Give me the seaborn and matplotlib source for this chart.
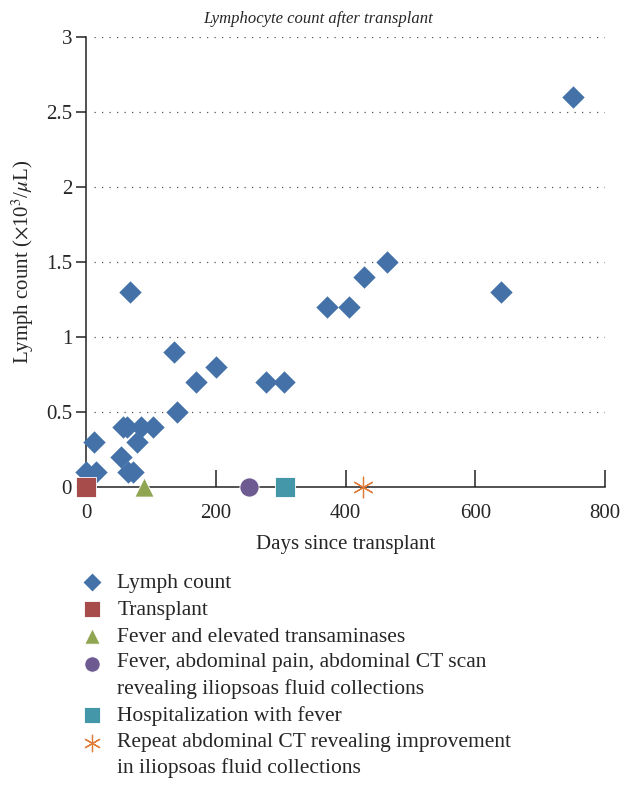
import pandas as pd
import seaborn as sns
import matplotlib.pyplot as plt

# lymphocyte counts
days = [0, 12, 15, 54, 57, 63, 64, 68, 72, 78, 85, 104, 135, 140, 169, 200,
        277, 305, 371, 405, 429, 464, 640, 750]
lymph = [0.1, 0.3, 0.1, 0.2, 0.4, 0.4, 0.1, 1.3, 0.1, 0.3, 0.4, 0.4, 0.9, 0.5, 0.7, 0.8,
         0.7, 0.7, 1.2, 1.2, 1.4, 1.5, 1.3, 2.6]

# clinical events on the time axis
event_days = [0, 90, 252, 306, 427]
event_labels = [
    "Transplant",
    "Fever and elevated transaminases",
    "Fever, abdominal pain, abdominal CT scan\nrevealing iliopsoas fluid collections",
    "Hospitalization with fever",
    "Repeat abdominal CT revealing improvement\nin iliopsoas fluid collections",
]
event_colors = ["#A84B4B", "#8FA552", "#6D5A91", "#4497A9", "#E07B39"]
event_markers = ["s", "^", "o", "s", (6, 2, 0)]

sns.set_style("white")
plt.rcParams['font.family'] = ['Liberation Serif', 'DejaVu Serif']
plt.rcParams['mathtext.fontset'] = 'stix'

fig = plt.figure(figsize=(6.34, 7.95), dpi=100)
ax = fig.add_axes([86 / 634, 1 - 487 / 795, (605 - 86) / 634, (487 - 37) / 795])

df = pd.DataFrame({"day": days, "lymph": lymph})
sns.scatterplot(data=df, x="day", y="lymph", marker="D", s=130, color="#4472A8",
                edgecolor="#4472A8", linewidth=0, ax=ax, label="Lymph count",
                clip_on=False, zorder=3)

for d, lab, c, m in zip(event_days, event_labels, event_colors, event_markers):
    if m == (6, 2, 0):
        sns.scatterplot(x=[d], y=[0], marker=m, s=220, color=c, linewidth=0.9,
                        ax=ax, label=lab, clip_on=False, zorder=4)
    else:
        sns.scatterplot(x=[d], y=[0], marker=m, s=190, color=c, edgecolor="white",
                        linewidth=0.6, ax=ax, label=lab, clip_on=False, zorder=4)

ax.set_xlim(0, 800)
ax.set_ylim(0, 3)
ax.set_xticks([0, 200, 400, 600, 800])
ax.set_yticks([0, 0.5, 1, 1.5, 2, 2.5, 3])
ax.set_yticklabels(["0", "0.5", "1", "1.5", "2", "2.5", "3"])
for y in [0.5, 1, 1.5, 2, 2.5, 3]:
    ax.axhline(y, xmin=0.015, color="#555555", linestyle=(0, (1, 5)), linewidth=0.9, zorder=1)

for side in ["top", "right"]:
    ax.spines[side].set_visible(False)
ax.spines["left"].set_color("#222222")
ax.spines["bottom"].set_color("#222222")
ax.spines["left"].set_linewidth(1.1)
ax.spines["bottom"].set_linewidth(1.1)
ax.tick_params(axis="x", direction="in", length=12, width=1.1, color="#222222",
               labelsize=15, pad=12, bottom=True)
ax.tick_params(axis="y", direction="out", length=7, width=1.1, color="#222222",
               labelsize=15, pad=3, left=True)

ax.set_xlabel("Days since transplant", fontsize=15, labelpad=9)
ax.set_ylabel(r"Lymph count ($\times$10$^3$/$\mu$L)", fontsize=15, labelpad=7)
ax.set_title("Lymphocyte count after transplant", fontsize=12, style="italic",
             pad=10, x=(318 - 86) / 519)

handles, labels = ax.get_legend_handles_labels()
ax.legend_.remove()
leg = fig.legend(handles, labels, loc="upper left", bbox_to_anchor=(70 / 634, 1 - 564 / 795),
                 frameon=False, fontsize=15.5, labelspacing=0.32, handletextpad=0.6,
                 borderaxespad=0, handlelength=1.2, markerscale=0.8)
for t in leg.get_texts():
    t.set_linespacing(1.42)

# two-line entries: put the marker next to the first line
for i, lab in enumerate(labels):
    if "\n" in lab:
        h = leg.legend_handles[i]
        off = h.get_offsets()
        off[:, 1] += 9.6
        h.set_offsets(off)

fig.savefig("out.png", dpi=100)
